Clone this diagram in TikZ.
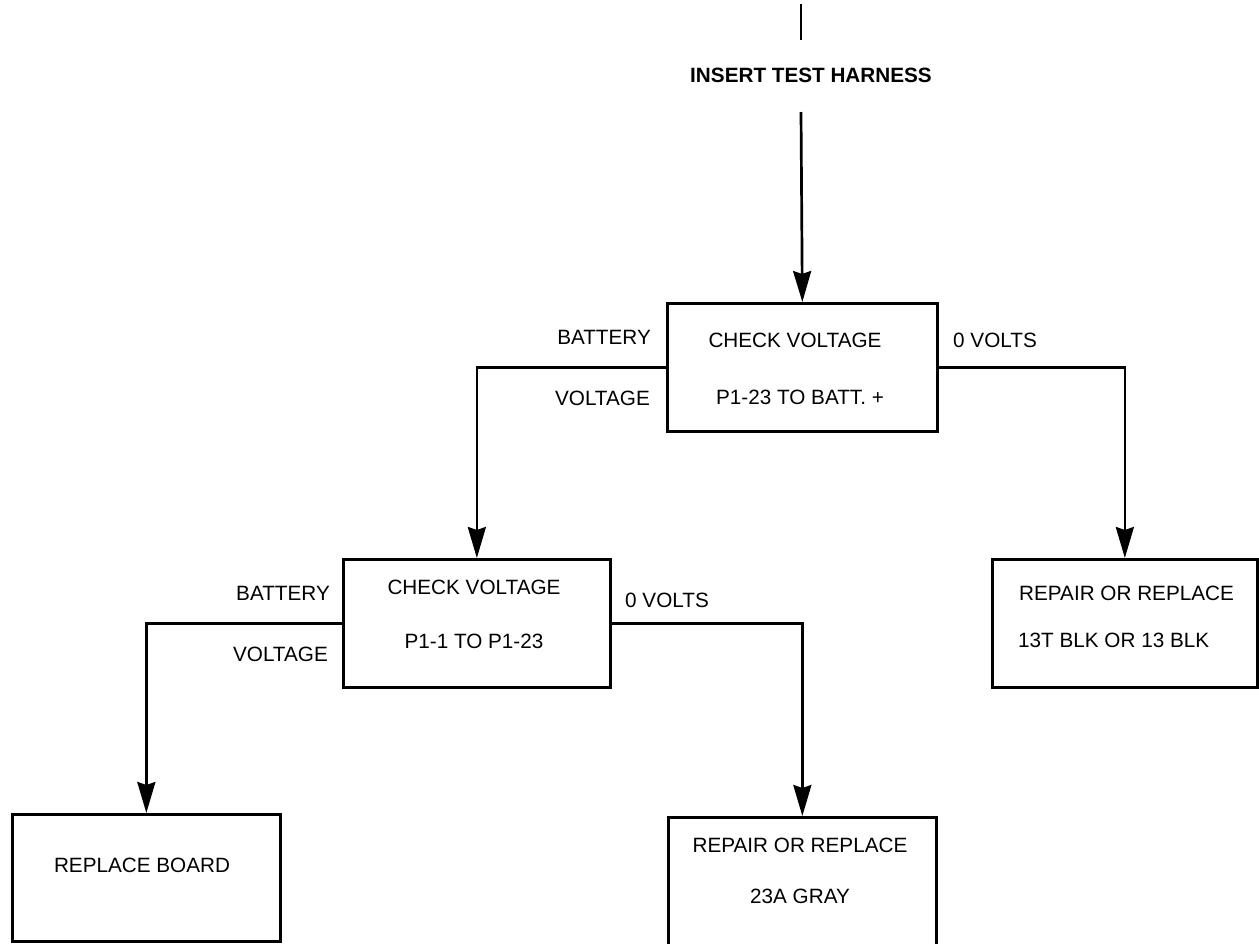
\documentclass[tikz,border=0pt]{standalone}
\usepackage{fontspec}
\setmainfont{Liberation Sans}
\usetikzlibrary{arrows.meta}
\begin{document}
\begin{tikzpicture}[x=1pt,y=-1pt,
  lw/.style={line width=2.7pt},
  box/.style={draw,lw,anchor=north west,inner sep=0pt},
  txt/.style={font=\fontsize{20.7}{24}\selectfont,inner sep=0pt},
  arr/.style={lw,-{Stealth[length=31pt,width=18pt,inset=3pt]}},
  wire/.style={lw}]
\useasboundingbox (0,0) rectangle (1259,943);
% boxes
\node[box,minimum width=270pt,minimum height=128pt] (b1) at (666,302) {};
\node[box,minimum width=267pt,minimum height=128pt] (b2) at (342,558) {};
\node[box,minimum width=265pt,minimum height=128pt] (b3) at (991,558) {};
\node[box,minimum width=268pt,minimum height=127pt] (b4) at (11,813) {};
\node[box,minimum width=268pt,minimum height=140pt] (b5) at (667,816) {};
% title
\node[txt,font=\fontsize{20.7}{24}\selectfont\bfseries] (title) at (811,75) {INSERT TEST HARNESS};
\coordinate (s1) at (801,4);
\coordinate (s2) at (801,40);
\coordinate (s3) at (801,112);
\draw[wire] (s1) -- (s2);
\draw[arr] (s3) -- (b1.north);
% box texts
\node[txt] (b1a) at (795,340) {CHECK VOLTAGE};
\node[txt] (b1b) at (800,397) {P1-23 TO BATT. +};
\node[txt] (b2a) at (474,587) {CHECK VOLTAGE};
\node[txt] (b2b) at (474,641) {P1-1 TO P1-23};
\node[txt,anchor=west] (b3a) at (1019,593) {REPAIR OR REPLACE};
\node[txt,anchor=west] (b3b) at (1018,640) {13T BLK OR 13 BLK};
\node[txt] (b4a) at (142,865) {REPLACE BOARD};
\node[txt] (b5a) at (800,845) {REPAIR OR REPLACE};
\node[txt] (b5b) at (800,896) {23A GRAY};
% branch labels
\node[txt,anchor=east] (l1a) at (651,337) {BATTERY};
\node[txt,anchor=east] (l1b) at (650,398) {VOLTAGE};
\node[txt,anchor=west] (r1) at (953,340) {0 VOLTS};
\node[txt,anchor=east] (l2a) at (330,593) {BATTERY};
\node[txt,anchor=east] (l2b) at (328,654) {VOLTAGE};
\node[txt,anchor=west] (r2) at (625,600) {0 VOLTS};
% connectors
\draw[arr] (b1.west) -| (b2.north);
\draw[arr] (b1.east) -| (b3.north);
\draw[arr] (b2.west) -| (b4.north);
\draw[arr] (b2.east) -| (b5.north);
\end{tikzpicture}
\end{document}
